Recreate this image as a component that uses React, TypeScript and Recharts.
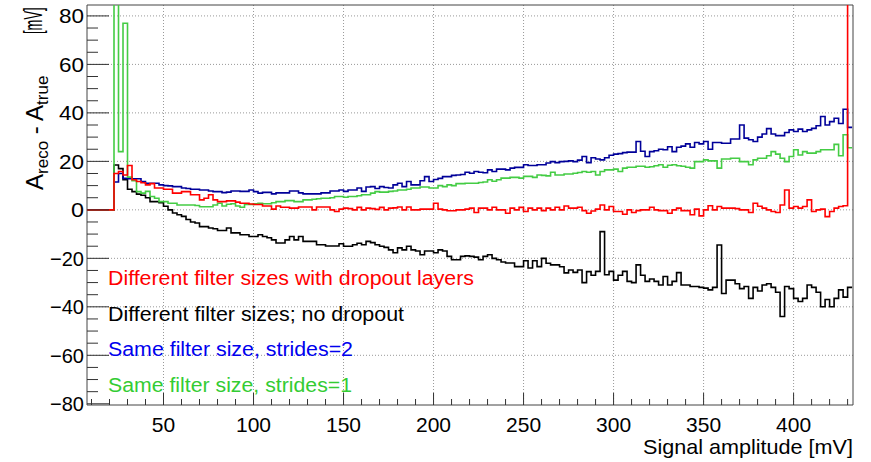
import { CartesianGrid, Line, LineChart, ReferenceArea, XAxis, YAxis } from "recharts"

// histogram binning (mV)
const binStart = 7.5
const binWidth = 2.5
const xMin = 7.5
const xMax = 433
const yMin = -80.5
const yMax = 84.5

// bin contents, A_reco - A_true [mV]
const dropout = [
  0, 0, 0, 0, 0, 0,
  15, 15.8, 14.4, 18.3, 12.4, 11.7, 11.2, 10.3, 10.8, 9,
  9, 8.5, 8.5, 6.9, 6.9, 7.5, 7.5, 6.2, 6.2, 4.1,
  4.8, 6.2, 4.1, 3.4, 3.4, 3.7, 3.7, 3.2, 2.7, 2.7,
  2.4, 2.2, 2.2, 1.6, 1.6, 0.3, 1.6, 1.1, 1.1, 0.7,
  0.7, 1.2, 1.2, 1.2, 0, 1.2, 1.2, 1.2, 0, -0.7,
  0.3, 0.7, 0.5, 0, 1, 0, 0.7, 0.5, 0.2, 1,
  0, 0.7, 0.8, 1.2, 0, 1.2, 0, 0, 0.3, 0.3,
  0.3, 2.7, 0.3, 0, -0.4, -0.4, 0, 0, 0.3, 0.7,
  -1.1, 0.7, 0.7, 0, 1.1, 0, 0, -1.4, 0.7, 0,
  1, -0.7, 0.7, 0, 0.7, -0.3, 0.7, 0, 1.1, 0,
  1.6, 0.7, 0.7, 1.1, -0.3, -1.4, -0.5, 0.3, 2, 0,
  1.4, -0.7, -0.7, -1.8, 0, -1.1, -0.3, 0, 0, 1.1,
  0, -0.3, -0.3, -1.4, 0, 0.7, -0.3, -0.3, -2, 0.3,
  -2.5, 0, 1.7, 0, 1.4, 0.7, 0.7, 0.7, 0.5, 0,
  0, -1.1, 2.7, 1.5, 0.7, 0, -0.7, -1.1, 2, 8.2,
  0.7, 1.4, 0.7, 1.4, 4.1, -0.7, 0, 0.3, -2.8, -0.7,
  0.7, 1.4, 1.7, 200,
]

const noDropout = [
  0, 0, 0, 0, 0, 0,
  18.5, 17, 12.4, 8.5, 7.5, 6.5, 6, 5, 3.4, 3.4,
  3, 1.5, 0, -1.3, -2, -2.7, -4, -5, -5.4, -6.9,
  -6.9, -7.5, -7.8, -8.5, -8.5, -7.5, -9.5, -9.5, -10.3, -10.3,
  -11, -11, -10.3, -11, -11.5, -12.4, -13.7, -13.7, -12.4, -11,
  -12.4, -11, -13, -13, -13, -14.4, -14.4, -14.9, -14.9, -14.9,
  -14, -15, -15, -14.4, -13.8, -14.4, -13, -13.5, -14.4, -15,
  -15.5, -16.5, -17.7, -15.7, -16.5, -15, -16.5, -17, -18.5, -17,
  -17, -17.7, -16.5, -17, -19.2, -20.6, -20.6, -19.2, -19, -19.2,
  -19.5, -20.6, -19.2, -18.5, -20, -20.6, -21.5, -21.9, -21.9, -23.4,
  -23.4, -21, -24, -21, -23.4, -20, -22, -22.7, -22.7, -23.5,
  -26, -24.8, -25.8, -24.8, -30, -25.5, -27, -25.4, -9, -26.8,
  -25.4, -29, -27, -25.4, -29.5, -30, -22.7, -27, -29.5, -28.5,
  -29.5, -31, -27.5, -31, -29.5, -25.9, -31, -31, -31.6, -31.6,
  -32, -32.3, -33, -32, -14.5, -34.5, -29, -29, -30.5, -32.5,
  -31.6, -36.5, -32, -33.5, -31, -30.5, -32, -34, -44, -31.6,
  -32.5, -36.5, -37.8, -36.5, -31, -32, -34, -40, -37, -40,
  -36.5, -33, -36, -32,
]

const strides2 = [
  0, 0, 0, 0, 0, 0,
  11.5, 15, 13, 12.8, 12.8, 12.8, 11.7, 11, 11, 11,
  10.3, 10, 9.9, 9.6, 9.6, 9, 8.8, 8.5, 8.5, 8.2,
  8.2, 7.8, 7.5, 7.5, 7.1, 7.3, 7.8, 7.8, 7.6, 7.6,
  8.2, 7.5, 6.9, 7.2, 7.2, 6.6, 7, 7, 7, 7.8,
  7.8, 7, 6.6, 6.6, 6.6, 6.6, 7, 7, 7.8, 7.8,
  8.2, 7.6, 8.2, 8.2, 9, 7.6, 9.4, 9.6, 8.8, 9.6,
  9.2, 9, 10.3, 11, 9.6, 11.7, 10.3, 10.3, 12, 13.7,
  11.7, 12.5, 13, 13.7, 13.7, 14.2, 14.4, 14.6, 15.5, 15.1,
  15.8, 15.5, 15.3, 16.5, 15.8, 16.8, 16.8, 16.5, 17.2, 17.5,
  17.5, 18.6, 18.3, 18.3, 18.6, 18.6, 19.3, 19.9, 19.5, 19.9,
  20, 20.2, 19.9, 20.5, 22, 19.5, 21.5, 21, 20.6, 21.5,
  22.5, 23, 23.2, 23.6, 23.8, 23.8, 28.2, 24.2, 22, 24,
  24.4, 25, 24.8, 26, 24, 25.8, 26.3, 27.2, 25.8, 27.8,
  27.2, 28.2, 25, 27.8, 27.8, 27.5, 27.5, 29.2, 29.2, 35,
  29.6, 28.9, 28.2, 30, 31.3, 33.5, 31.3, 30.6, 30.6, 31.9,
  33, 32.3, 33.3, 32.3, 33, 33.6, 34.7, 38.5, 35, 36.4,
  37.8, 35.6, 41.5, 34,
]

const strides1 = [
  0, 0, 0, 0, 0, 0,
  100, 24, 77, 13.5, 12, 7.5, 6.9, 7.6, 5.5, 4.8,
  3.4, 3.4, 2.7, 2.7, 2, 2, 2, 2, 1.8, 1.3,
  1.3, 1.3, 2, 2.7, 1.6, 2.3, 2.5, 1.6, 1.1, 2.2,
  2.2, 2.5, 2.7, 2.5, 2.5, 2.9, 3.4, 3.4, 3.8, 3.8,
  3.4, 3.4, 4.1, 4.1, 4.4, 4.6, 4.8, 4.8, 5, 5.5,
  5.5, 5.2, 5.5, 5.5, 5.8, 6.2, 6.2, 6.9, 7.5, 7.3,
  7.3, 7.6, 7.8, 8.2, 8.2, 8.5, 9, 9, 9.4, 9.4,
  9, 9, 10, 9.6, 10.3, 10, 10.8, 10.8, 11, 11,
  11, 11.3, 11.5, 12.4, 11.8, 12.4, 13.1, 13.1, 13.4, 13.4,
  13.1, 13.8, 13.8, 13.4, 14.4, 14.2, 14, 15.5, 14.4, 14.4,
  14.8, 14.8, 15.1, 15.4, 15.8, 15.5, 15.8, 14.4, 15.8, 16.5,
  16.5, 16.8, 15.8, 17.2, 17.6, 17.6, 18, 18, 17.6, 17.8,
  18.2, 18.6, 17.6, 18.4, 18.6, 18.2, 18, 17.6, 17.2, 19.9,
  19.9, 20.6, 20.2, 20.2, 17.2, 21, 21, 21.3, 21.3, 19.9,
  19.9, 18.6, 20.6, 21.3, 21.3, 22.3, 24, 23, 21.3, 19.9,
  22, 24.8, 22.6, 24, 23.4, 23.4, 24, 24.8, 24.8, 24.8,
  27, 22.3, 31, 25.6,
]

const xTicks = [10, 20, 30, 40, 50, 60, 70, 80, 90, 100, 110, 120, 130, 140, 150, 160, 170, 180, 190, 200, 210, 220, 230, 240, 250, 260, 270, 280, 290, 300, 310, 320, 330, 340, 350, 360, 370, 380, 390, 400, 410, 420, 430]
const xLabels = [50, 100, 150, 200, 250, 300, 350, 400]
const yTicks = [-80, -75, -70, -65, -60, -55, -50, -45, -40, -35, -30, -25, -20, -15, -10, -5, 0, 5, 10, 15, 20, 25, 30, 35, 40, 45, 50, 55, 60, 65, 70, 75, 80]
const yLabels = [-80, -60, -40, -20, 0, 20, 40, 60, 80]

const legendItems = [
  { text: "Different filter sizes with dropout layers", color: "#ff0000", width: 366 },
  { text: "Different filter sizes; no dropout", color: "#000000", width: 296 },
  { text: "Same filter size, strides=2", color: "#0000ee", width: 245 },
  { text: "Same filter size, strides=1", color: "#33cc33", width: 244 },
]

const font = '"Liberation Sans", Arial, sans-serif'

const data = dropout.map((_, i) => ({
  x: binStart + i * binWidth,
  dropout: dropout[i],
  noDropout: noDropout[i],
  strides2: strides2[i],
  strides1: strides1[i],
}))
// close the last bin
const last = dropout.length - 1
data.push({
  x: binStart + dropout.length * binWidth,
  dropout: dropout[last],
  noDropout: noDropout[last],
  strides2: strides2[last],
  strides1: strides1[last],
})

const minus = (v: number) => (v < 0 ? "\u2212" + Math.abs(v) : String(v))

function XTick({ x, y, payload }: any) {
  const v = payload.value
  const major = xLabels.includes(v)
  return (
    <g>
      <line x1={x} x2={x} y1={y} y2={y - (major ? 12 : 6)} stroke="#333" />
      {major && (
        <text x={x} y={y + 27} textAnchor="middle" fontSize={21} fontFamily={font} fill="#000">
          {v}
        </text>
      )}
    </g>
  )
}

function YTick({ x, y, payload }: any) {
  const v = payload.value
  const major = yLabels.includes(v)
  const w = v === 0 ? 13 : v < 0 ? 34 : 25
  return (
    <g>
      <line x1={x} x2={x + (major ? 22 : 11)} y1={y} y2={y} stroke="#333" />
      {major && (
        <text
          x={x - 3}
          y={y + 7.5}
          textAnchor="end"
          fontSize={21}
          fontFamily={font}
          fill="#000"
          textLength={w}
          lengthAdjust="spacingAndGlyphs"
        >
          {minus(v)}
        </text>
      )}
    </g>
  )
}

export default function App() {
  return (
    <div style={{ position: "absolute", left: 0, top: 0, width: 871, height: 462, background: "#fff" }}>
      <LineChart width={871} height={462} data={data} margin={{ top: 5, right: 18, left: 0, bottom: 0 }}>
        <CartesianGrid
          stroke="#999"
          strokeDasharray="1 2"
          verticalValues={xLabels}
          horizontalValues={yLabels.filter((v) => v > yMin + 1)}
        />
        <XAxis
          dataKey="x"
          type="number"
          domain={[xMin, xMax]}
          allowDataOverflow
          ticks={xTicks}
          interval={0}
          tick={<XTick />}
          tickLine={false}
          axisLine={false}
          tickSize={0}
          tickMargin={0}
          height={57}
        />
        <YAxis
          type="number"
          domain={[yMin, yMax]}
          allowDataOverflow
          ticks={yTicks}
          interval={0}
          tick={<YTick />}
          tickLine={false}
          axisLine={false}
          tickSize={0}
          tickMargin={0}
          width={87}
        />
        <Line type="stepAfter" dataKey="noDropout" stroke="#000000" strokeWidth={1.6} dot={false} isAnimationActive={false} />
        <Line type="stepAfter" dataKey="strides2" stroke="#000099" strokeWidth={1.6} dot={false} isAnimationActive={false} />
        <Line type="stepAfter" dataKey="strides1" stroke="#44cc44" strokeWidth={1.6} dot={false} isAnimationActive={false} />
        <Line type="stepAfter" dataKey="dropout" stroke="#ff0000" strokeWidth={1.6} dot={false} isAnimationActive={false} />
        <ReferenceArea x1={xMin} x2={xMax} y1={yMin} y2={yMax} fill="none" stroke="#444" strokeWidth={1} ifOverflow="visible" />
      </LineChart>
      <svg width={871} height={462} style={{ position: "absolute", left: 0, top: 0, pointerEvents: "none" }}>
        {legendItems.map((item, i) => (
          <text
            key={item.text}
            x={108}
            y={285 + i * 35.7}
            fontSize={19.5}
            fontFamily={font}
            fill={item.color}
            textLength={item.width}
            lengthAdjust="spacingAndGlyphs"
          >
            {item.text}
          </text>
        ))}
        <text
          x={853}
          y={454}
          textAnchor="end"
          fontSize={21}
          fontFamily={font}
          fill="#000"
          textLength={210}
          lengthAdjust="spacingAndGlyphs"
        >
          Signal amplitude [mV]
        </text>
        <g transform="rotate(-90)">
          <text x={-190} y={43} fontSize={24} fontFamily={font} fill="#000" style={{ whiteSpace: "pre" }}>
            A<tspan dy={5} fontSize={17}>reco</tspan>
            <tspan dy={-5}> - A</tspan>
            <tspan dy={5} fontSize={17}>true</tspan>
          </text>
          <text transform="translate(-34, 42) scale(0.52, 1)" x={0} y={0} fontSize={25} fontFamily={font} fill="#000">
            [mV]
          </text>
        </g>
      </svg>
    </div>
  )
}
